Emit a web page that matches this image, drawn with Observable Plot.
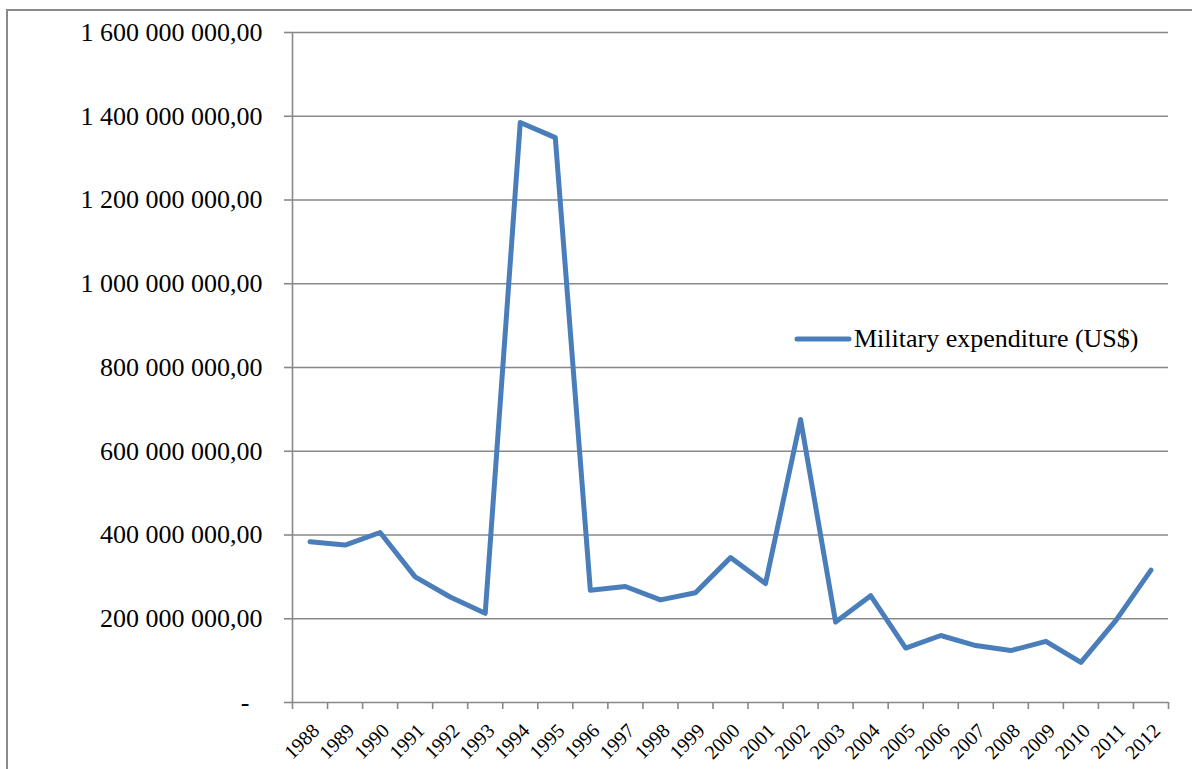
<!DOCTYPE html>
<html>
<head>
<meta charset="utf-8">
<script src="https://cdn.jsdelivr.net/npm/d3@7"></script>
<script src="https://cdn.jsdelivr.net/npm/@observablehq/plot@0.6"></script>
<style>
  html, body { margin: 0; padding: 0; background: white; }
  #wrap { position: relative; width: 1192px; height: 769px; overflow: hidden; background: white; font-family: "Liberation Serif", "Times New Roman", serif; }
  #frame { position: absolute; left: 6px; top: 9px; width: 1300px; height: 900px; border: 2px solid #8a8a8a; box-sizing: border-box; pointer-events: none; }
  #legend { position: absolute; left: 0; top: 0; pointer-events: none; }
</style>
</head>
<body>
<div id="wrap">
  <div id="chart"></div>
  <svg id="legend" width="1192" height="769">
    <line x1="797" y1="339" x2="849" y2="339" stroke="#4a7ebb" stroke-width="5" stroke-linecap="round"></line>
    <text x="854" y="347" font-family="Liberation Serif, Times New Roman, serif" font-size="26" fill="black">Military expenditure (US$)</text>
  </svg>
  <div id="frame"></div>
</div>
<script>
const years = ["1988","1989","1990","1991","1992","1993","1994","1995","1996","1997","1998","1999","2000","2001","2002","2003","2004","2005","2006","2007","2008","2009","2010","2011","2012"];
const expenditure = [384e6, 376e6, 406e6, 300e6, 252e6, 213e6, 1385e6, 1349e6, 268e6, 277e6, 245e6, 262e6, 346e6, 284e6, 676e6, 192e6, 255e6, 130e6, 160e6, 136e6, 124e6, 146e6, 96e6, 196e6, 316e6];
const yTicks = [0, 200e6, 400e6, 600e6, 800e6, 1000e6, 1200e6, 1400e6, 1600e6];

const locale = d3.formatLocale({decimal: ",", thousands: "\u00a0", grouping: [3], currency: ["", ""]});
const fmt = locale.format(",.2f");
const yFormat = d => d === 0 ? "-\u00a0\u00a0" : fmt(d);

const data = years.map((y, i) => ({year: y, idx: i + 0.5, value: expenditure[i]}));
const bounds = d3.range(years.length + 1);

const grey = "#888888";
const font = "Liberation Serif, Times New Roman, serif";
const chart = Plot.plot({
  width: 1192,
  height: 769,
  marginLeft: 292,
  marginRight: 24,
  marginTop: 32,
  marginBottom: 67,
  style: {background: "transparent", fontFamily: font, color: "black"},
  x: {type: "linear", domain: [0, years.length], axis: null, label: null},
  y: {domain: [0, 1600e6], axis: null, label: null},
  marks: [
    Plot.gridY(yTicks, {stroke: grey, strokeOpacity: 1, strokeWidth: 1.6}),
    Plot.ruleX([0], {stroke: grey, strokeWidth: 1.6}),
    Plot.axisY(yTicks, {label: null, tickSize: 8, tickPadding: 22, tickFormat: yFormat, fontSize: 26, fontFamily: font, stroke: grey, fill: "black", strokeWidth: 1.6}),
    Plot.axisX(bounds, {label: null, tickSize: 7, tickFormat: () => "", stroke: grey, strokeWidth: 1.6}),
    Plot.text(data, {x: "idx", frameAnchor: "bottom", text: "year", rotate: -45, textAnchor: "end", lineAnchor: "middle", dx: 6, dy: 25, fontSize: 20, fontFamily: font, fill: "black"}),
    Plot.line(data, {x: "idx", y: "value", stroke: "#4a7ebb", strokeWidth: 5, strokeLinejoin: "round", strokeLinecap: "round"})
  ]
});
document.getElementById("chart").appendChild(chart);
</script>
</body>
</html>
